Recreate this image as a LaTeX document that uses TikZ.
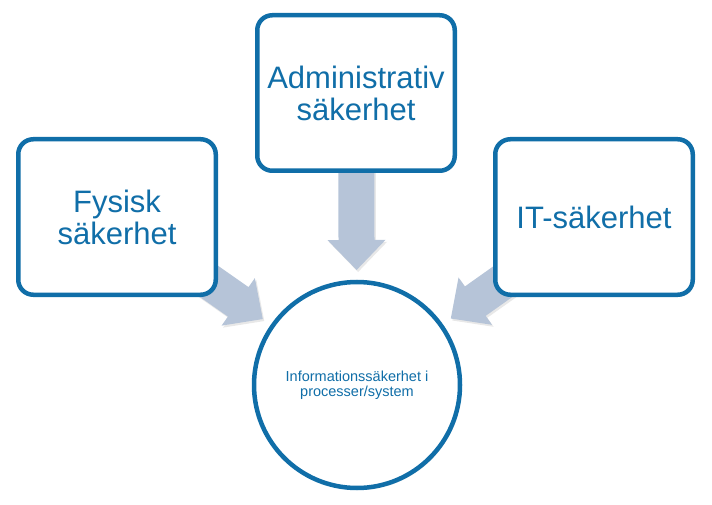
\documentclass[tikz,border=0pt]{standalone}
\usepackage{fontspec}
\setmainfont{Liberation Sans}
\usetikzlibrary{calc,shadows,backgrounds}

\definecolor{kantblaa}{HTML}{106EA8}
\definecolor{pilgraa}{HTML}{B6C4D8}

% block arrow from a box (#1) to a tip coordinate (#2)
\newcommand{\flowarrow}[2]{%
  \coordinate (#2-s) at ($(#2)!180pt!(#1)$);
  \coordinate (#2-b) at ($(#2)!30pt!(#1)$);
  \fill[pil] ($(#2-s)!18pt!90:(#2)$) -- ($(#2-b)!18pt!90:(#2)$) -- ($(#2-b)!29pt!90:(#2)$)
    -- (#2) -- ($(#2-b)!29pt!-90:(#2)$) -- ($(#2-b)!18pt!-90:(#2)$)
    -- ($(#2-s)!18pt!-90:(#2)$) -- cycle;
}

\begin{document}
\begin{tikzpicture}[
  x=1pt, y=-1pt,
  skugga/.style={drop shadow={shadow xshift=1.5pt, shadow yshift=-2pt, opacity=0.18}},
  ruta/.style={draw=kantblaa, line width=4.5pt, fill=white, rounded corners=15pt,
    minimum width=197.5pt, minimum height=155.5pt, align=center,
    text=kantblaa, font=\fontsize{31}{32}\selectfont, skugga},
  mal/.style={circle, draw=kantblaa, line width=4.5pt, fill=white, minimum size=206pt,
    align=center, text=kantblaa, font=\fontsize{14.5}{14.5}\selectfont, skugga},
  pil/.style={fill=pilgraa, skugga}
]
  \useasboundingbox (0,0) rectangle (712,505);

  \node[ruta] (fys) at (117,217) {Fysisk\\säkerhet};
  \node[ruta] (adm) at (356,93) {Administrativ\\säkerhet};
  \node[ruta] (its) at (594,217) {IT-säkerhet};
  \node[mal] (info) at (357,385) {Informationssäkerhet i\\processer/system};

  \coordinate (fysspets) at ($(info)!115pt!(fys)$);
  \coordinate (admspets) at ($(info)!115pt!(adm)$);
  \coordinate (itsspets) at ($(info)!115pt!(its)$);

  \begin{pgfonlayer}{background}
    \flowarrow{fys}{fysspets}
    \flowarrow{adm}{admspets}
    \flowarrow{its}{itsspets}
  \end{pgfonlayer}
\end{tikzpicture}
\end{document}
